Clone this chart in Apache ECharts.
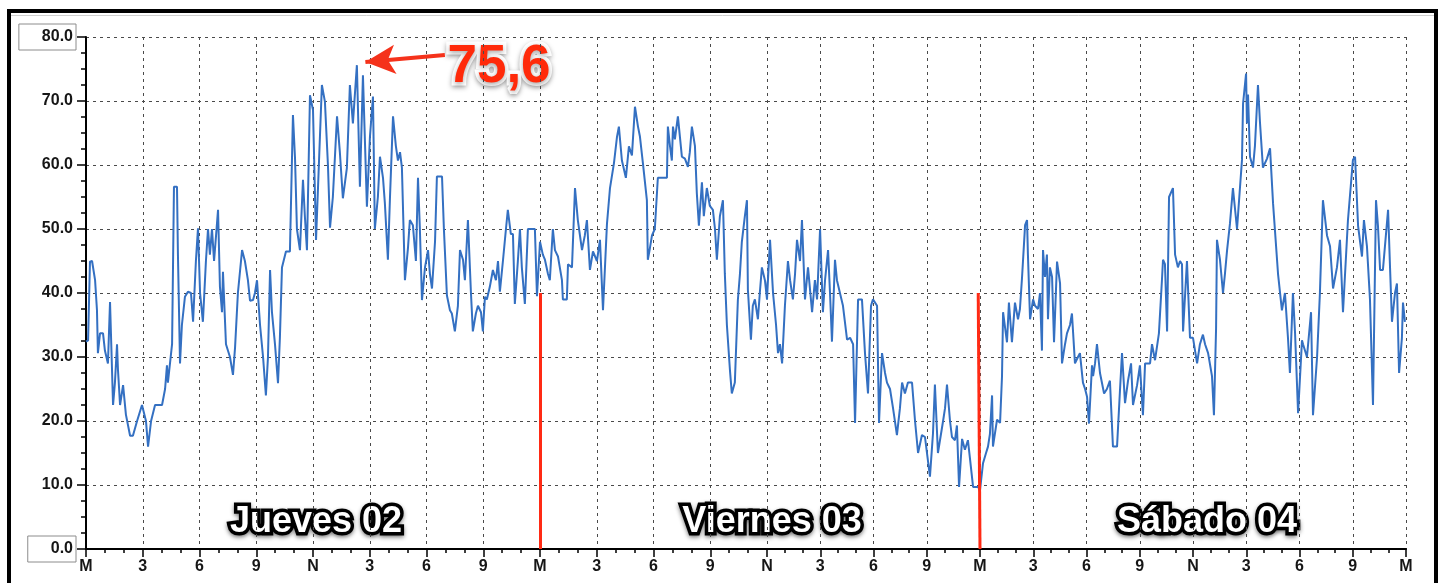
<!DOCTYPE html>
<html>
<head>
<meta charset="utf-8">
<script src="https://cdn.jsdelivr.net/npm/echarts@6/dist/echarts.min.js"></script>
<style>
  html, body { margin: 0; padding: 0; background: #fff; }
  #chart { width: 1442px; height: 583px; }
</style>
</head>
<body>
<div id="chart"></div>
<script>
// readings as [hour since Thursday 00:00, value]
const thursday = [
  [0.00, 32.4], [0.11, 32.6], [0.21, 44.9], [0.32, 45], [0.48, 42], [0.58, 37.3], [0.63, 30.6], [0.74, 33.7],
  [0.90, 33.7], [1.00, 31], [1.16, 29], [1.27, 38.6], [1.32, 38.6], [1.43, 22.5], [1.53, 26], [1.64, 32],
  [1.69, 28], [1.80, 22.5], [1.96, 25.6], [2.11, 21], [2.33, 17.7], [2.48, 17.7], [2.70, 20], [2.96, 22.5],
  [3.17, 20], [3.28, 16], [3.44, 20], [3.65, 22.5], [3.91, 22.5], [4.02, 22.5], [4.18, 25], [4.28, 28.7],
  [4.33, 26], [4.55, 32], [4.65, 56.6], [4.81, 56.6], [4.86, 46], [4.97, 29], [5.07, 35], [5.23, 39.4],
  [5.39, 40.2], [5.55, 40], [5.66, 35.5], [5.81, 45], [5.92, 50.1], [6.03, 40], [6.18, 35.5], [6.34, 45],
  [6.45, 50], [6.55, 46], [6.66, 50], [6.77, 45], [6.98, 53], [7.08, 41], [7.19, 37], [7.24, 43.3],
  [7.40, 32], [7.61, 30], [7.77, 27.2], [7.88, 31.5], [8.03, 40], [8.25, 46.7], [8.40, 45], [8.56, 42],
  [8.67, 38.8], [8.83, 38.9], [8.93, 40], [9.04, 42], [9.20, 35], [9.36, 30], [9.51, 24], [9.62, 30],
  [9.73, 43.6], [9.83, 37], [9.99, 32], [10.15, 25.9], [10.25, 33], [10.36, 44], [10.57, 46.5], [10.78, 46.5],
  [10.94, 67.8], [11.05, 61], [11.15, 50], [11.31, 46.7], [11.47, 57.7], [11.57, 52], [11.68, 46.7], [11.84, 70.9],
  [12.00, 68.6], [12.16, 48.3], [12.31, 60], [12.47, 72.5], [12.63, 69.9], [12.79, 60], [12.90, 50.2], [13.05, 55],
  [13.27, 67.6], [13.42, 62], [13.58, 54.8], [13.79, 59.5], [13.95, 72.5], [14.11, 66.5], [14.32, 75.6], [14.48, 56.6],
  [14.64, 74], [14.85, 53.5], [15.01, 64.4], [15.17, 70.7], [15.27, 50], [15.43, 55], [15.54, 61.3], [15.70, 58],
  [15.80, 54], [15.96, 45.2], [16.07, 55], [16.23, 67.6], [16.38, 63], [16.49, 60.7], [16.60, 62], [16.70, 59.6],
  [16.86, 42], [17.02, 47], [17.12, 51.4], [17.28, 50.6], [17.44, 45], [17.55, 58], [17.65, 50], [17.76, 38.9],
  [17.92, 44], [18.08, 46.7], [18.18, 43], [18.29, 40.7], [18.45, 48], [18.55, 58.2], [18.82, 58.2], [18.92, 50],
  [19.08, 39.6], [19.24, 37.3], [19.34, 36.8], [19.50, 34], [19.66, 38], [19.77, 46.7], [19.93, 45.2], [20.03, 42],
  [20.19, 51.4], [20.35, 40], [20.45, 34], [20.61, 36.8], [20.72, 38], [20.88, 37], [20.98, 34], [21.09, 39.4],
  [21.19, 39], [21.35, 41], [21.51, 43.6], [21.67, 42], [21.78, 45], [21.88, 40.2], [22.04, 45], [22.20, 50],
  [22.30, 53], [22.46, 49.2], [22.57, 49.2], [22.67, 38.3], [22.83, 45], [22.94, 50], [23.04, 44], [23.20, 38.3],
  [23.36, 50], [23.57, 50], [23.73, 50], [23.84, 39.5], [24.00, 48]
]

const friday = [
  [24.15, 46], [24.26, 45.2], [24.42, 43], [24.52, 42], [24.68, 50], [24.79, 46.7], [24.95, 45.7], [25.16, 42],
  [25.21, 39], [25.42, 39], [25.48, 44.5], [25.58, 44.8], [25.69, 44], [25.85, 56.4], [26.00, 51.4], [26.22, 46.7],
  [26.37, 49], [26.48, 51.4], [26.64, 43.6], [26.80, 46.5], [27.01, 45], [27.17, 48.3], [27.33, 37.3], [27.54, 50.8],
  [27.70, 56.4], [27.91, 60.3], [28.07, 64.4], [28.17, 66], [28.33, 60.7], [28.54, 58], [28.70, 62.9], [28.86, 61.5],
  [29.02, 69.1], [29.18, 66], [29.28, 64.5], [29.44, 60.3], [29.65, 54.5], [29.70, 45.2], [29.81, 47], [29.92, 49],
  [30.07, 50], [30.23, 58], [30.50, 58], [30.71, 58], [30.76, 66], [30.87, 63], [30.97, 60.7], [31.03, 66],
  [31.13, 64], [31.29, 67.6], [31.50, 61.3], [31.66, 61], [31.82, 59.7], [31.92, 62], [32.03, 66], [32.19, 63],
  [32.29, 55.6], [32.40, 50.5], [32.56, 57.3], [32.66, 52], [32.82, 56.4], [32.98, 53.6], [33.14, 53], [33.25, 50],
  [33.35, 45.2], [33.51, 52], [33.67, 54.5], [33.77, 43.1], [33.88, 35], [34.04, 28], [34.14, 24.3], [34.30, 26],
  [34.46, 38.9], [34.57, 43], [34.67, 48], [34.83, 52], [34.94, 54.5], [34.99, 40.5], [35.15, 32.7], [35.25, 38],
  [35.36, 39], [35.52, 35.9], [35.62, 40], [35.73, 44], [35.89, 42], [36.00, 39], [36.17, 48.3], [36.34, 40],
  [36.51, 35], [36.62, 30.6], [36.73, 32], [36.85, 29], [37.01, 38], [37.18, 45], [37.30, 42], [37.46, 39],
  [37.58, 43], [37.69, 48.3], [37.86, 45], [37.97, 51.4], [38.14, 39], [38.31, 44], [38.54, 37], [38.70, 42],
  [38.82, 39], [38.99, 50], [39.15, 37], [39.27, 42], [39.44, 46.7], [39.55, 40], [39.66, 32.4], [39.83, 45.2],
  [39.94, 42], [40.11, 40], [40.28, 38], [40.51, 32.7], [40.68, 33], [40.85, 32], [40.96, 19.7], [41.13, 39],
  [41.35, 39], [41.52, 30.6], [41.69, 24.3], [41.86, 38], [41.97, 39], [42.20, 38], [42.31, 19.7], [42.48, 30.6],
  [42.65, 27.5], [42.76, 26], [42.93, 25], [43.10, 22], [43.32, 17.8], [43.49, 22], [43.61, 26], [43.77, 24.3],
  [43.94, 26], [44.17, 26], [44.34, 20], [44.51, 15], [44.73, 17.8], [44.90, 17.5], [45.01, 17.5], [45.18, 11.3],
  [45.35, 18], [45.46, 25.7], [45.63, 15], [45.92, 20], [46.03, 22], [46.14, 25.7], [46.31, 20], [46.42, 17.5],
  [46.59, 17], [46.70, 19.3], [46.82, 9.7], [46.99, 17.2], [47.15, 15.5], [47.32, 17], [47.44, 14], [47.61, 9.7],
  [47.89, 9.7], [48.00, 9.2]
]

const saturday = [
  [48.17, 13.4], [48.34, 15], [48.45, 16], [48.56, 18], [48.68, 24], [48.73, 16], [48.96, 20.2], [49.13, 19.7],
  [49.24, 27], [49.30, 37], [49.41, 36.8], [49.52, 32.3], [49.63, 38.5], [49.80, 32.3], [49.97, 38.5], [50.14, 35.9],
  [50.25, 37.5], [50.37, 42.5], [50.54, 50.6], [50.65, 51.4], [50.70, 46], [50.82, 35.9], [50.99, 39], [51.10, 38],
  [51.27, 37.5], [51.38, 40], [51.49, 31], [51.55, 46.7], [51.66, 42.5], [51.77, 46], [51.83, 35.9], [51.94, 44],
  [52.06, 42.5], [52.17, 32.3], [52.34, 44.9], [52.51, 41.5], [52.62, 29], [52.79, 32], [52.90, 33.7], [53.07, 35],
  [53.18, 36.8], [53.35, 29], [53.52, 30], [53.63, 30.6], [53.80, 26], [53.92, 25], [54.03, 23.8], [54.14, 19.6],
  [54.31, 28.7], [54.37, 27], [54.48, 29], [54.59, 32], [54.76, 27.5], [54.99, 24.3], [55.15, 25], [55.32, 26.3],
  [55.49, 16], [55.72, 16], [55.89, 25], [56.00, 30.6], [56.17, 22.8], [56.34, 26.3], [56.51, 29], [56.62, 22.5],
  [56.85, 25.6], [57.01, 28.7], [57.18, 20.9], [57.30, 29], [57.58, 29], [57.69, 32], [57.86, 29.5], [58.08, 33.7],
  [58.25, 42], [58.31, 45.2], [58.42, 44.5], [58.54, 34], [58.65, 55], [58.87, 56.4], [58.99, 46], [59.15, 44],
  [59.27, 45], [59.38, 44.5], [59.44, 34], [59.66, 45], [59.83, 33], [60.00, 33], [60.23, 29], [60.39, 32],
  [60.56, 33.5], [60.68, 32], [60.85, 30.6], [61.07, 27], [61.18, 20.9], [61.30, 34.5], [61.35, 48.3], [61.52, 45.2],
  [61.69, 40], [61.80, 43], [61.92, 46.7], [62.08, 50.8], [62.25, 56.4], [62.48, 50], [62.65, 56.6], [62.76, 60.8],
  [62.82, 69.6], [62.99, 74.3], [63.04, 66.5], [63.10, 71], [63.21, 61.3], [63.38, 59.6], [63.49, 63], [63.66, 72.5],
  [63.77, 66.8], [63.94, 59.6], [64.17, 61], [64.34, 62.6], [64.51, 54], [64.79, 43], [65.01, 37.3], [65.18, 40],
  [65.35, 33], [65.46, 27.5], [65.63, 40], [65.75, 33.7], [65.92, 21.2], [66.14, 32.6], [66.20, 32], [66.42, 30],
  [66.65, 37], [66.76, 20.9], [66.99, 30], [67.15, 40], [67.32, 54.5], [67.55, 49], [67.72, 47.3], [67.89, 40.7],
  [68.11, 44], [68.28, 48.3], [68.45, 37], [68.56, 37], [68.73, 51.4], [69.01, 60.8], [69.13, 61.3], [69.30, 50.5],
  [69.52, 45.7], [69.63, 51.4], [69.80, 47.3], [69.97, 39], [70.14, 22.5], [70.31, 54.5], [70.42, 50.5], [70.54, 43.6],
  [70.70, 43.6], [70.99, 53], [71.10, 44], [71.21, 35.5], [71.38, 40], [71.49, 41.5], [71.61, 27.5], [71.77, 33],
  [71.83, 38.5], [71.94, 35.5]
]

const yTicks = [0, 80]                       // boxed y labels
const dayBreaks = [24, 48]                    // red midnight markers
const peak = { hour: 14.32, value: 75.6, label: '75,6' }
const dayLabels = ['Jueves 02', 'Viernes 03', 'Sábado 04']

const readings = [...thursday, ...friday, ...saturday]

const FONT = '"Liberation Sans", Arial, sans-serif'
const axisFont = { fontFamily: FONT, fontSize: 16, fontWeight: 'bold', color: '#161616' }
const gridDash = { color: '#4a4a4a', width: 1, type: [3, 4] }

const hourLabel = (v) => {
  const h = v % 24
  if (h === 0) return 'M'
  if (h === 12) return 'N'
  return String(h % 12)
}

const xAxisBase = {
  type: 'value',
  interval: 3,
  axisLine: { show: true, onZero: false, lineStyle: { color: '#000', width: 2 } },
  axisTick: { show: true, length: 8, lineStyle: { color: '#000', width: 1.5 } },
  minorTick: { show: true, splitNumber: 3, length: 4, lineStyle: { color: '#000', width: 1.5 } },
  axisLabel: { ...axisFont, margin: 10, formatter: hourLabel },
  splitLine: { show: true, lineStyle: gridDash },
}

const yAxisBase = {
  type: 'value',
  min: 0,
  max: 80,
  interval: 10,
  splitLine: { show: true, lineStyle: gridDash },
}

const chart = echarts.init(document.getElementById('chart'), null, { renderer: 'canvas' })

const lineStyle = { color: '#3470c2', width: 2 }

chart.setOption({
  animation: false,
  backgroundColor: '#fff',
  grid: [
    { left: 86, top: 37, width: 681, height: 512, outerBoundsMode: 'none' },
    { left: 767, top: 37, width: 639, height: 512, outerBoundsMode: 'none' },
  ],
  xAxis: [
    { ...xAxisBase, gridIndex: 0, min: 0, max: 36 },
    {
      ...xAxisBase,
      gridIndex: 1,
      min: 36,
      max: 72,
      axisLabel: { ...xAxisBase.axisLabel, showMinLabel: false },
      splitLine: { show: true, showMinLine: false, lineStyle: gridDash },
    },
  ],
  yAxis: [
    {
      ...yAxisBase,
      gridIndex: 0,
      axisLine: { show: true, lineStyle: { color: '#000', width: 2 } },
      axisTick: { show: true, length: 9, lineStyle: { color: '#000', width: 1.5 } },
      minorTick: { show: true, splitNumber: 4, length: 5, lineStyle: { color: '#000', width: 1.5 } },
      axisLabel: {
        margin: 10,
        formatter: (v) => (yTicks.includes(v) ? `{box|${v.toFixed(1)}}` : `{plain|${v.toFixed(1)}}`),
        rich: {
          box: { ...axisFont, borderColor: '#8c8c8c', borderWidth: 1, padding: [5, 3, 5, 23] },
          plain: { ...axisFont, padding: [0, 3, 0, 0] },
        },
      },
    },
    {
      ...yAxisBase,
      gridIndex: 1,
      axisLine: { show: false },
      axisTick: { show: false },
      axisLabel: { show: false },
    },
  ],
  series: [
    {
      type: 'line',
      xAxisIndex: 0,
      yAxisIndex: 0,
      data: readings,
      showSymbol: false,
      lineStyle,
      clip: true,
      silent: true,
      markLine: {
        silent: true,
        animation: false,
        label: { show: false },
        data: [
          [
            { coord: [dayBreaks[0], 0], symbol: 'none', lineStyle: { color: '#ff2a14', width: 3, type: 'solid' } },
            { coord: [dayBreaks[0], 40], symbol: 'none' },
          ],
          [
            { coord: [18.97, 77.2], symbol: 'none', lineStyle: { color: '#f5321b', width: 4, type: 'solid' } },
            { coord: [peak.hour + 0.45, peak.value + 0.5], symbol: 'arrow', symbolSize: [22, 30] },
          ],
        ],
      },
    },
    {
      type: 'line',
      xAxisIndex: 1,
      yAxisIndex: 1,
      data: readings,
      showSymbol: false,
      lineStyle,
      clip: true,
      silent: true,
      markLine: {
        silent: true,
        animation: false,
        label: { show: false },
        data: [
          [
            { coord: [dayBreaks[1], 0], symbol: 'none', lineStyle: { color: '#ff2a14', width: 3, type: 'solid' } },
            { coord: [dayBreaks[1] - 0.1, 40], symbol: 'none' },
          ],
        ],
      },
    },
  ],
  graphic: [
    { type: 'rect', silent: true, shape: { x: 9, y: 11, width: 1427, height: 640 }, style: { fill: 'none', stroke: '#000', lineWidth: 4 } },
    { type: 'line', silent: true, shape: { x1: 11, y1: 15.5, x2: 1434, y2: 15.5 }, style: { stroke: '#cfcfcf', lineWidth: 1 } },
    ...dayLabels.map((t, i) => ({
      type: 'text',
      silent: true,
      x: [316, 772, 1207][i],
      y: 522,
      style: {
        text: t,
        font: `bold 36px ${FONT}`,
        align: 'center',
        verticalAlign: 'middle',
        fill: '#fff',
        stroke: '#000',
        lineWidth: 7,
        textShadowColor: 'rgba(0,0,0,0.45)',
        textShadowBlur: 4,
        textShadowOffsetY: 2,
      },
    })),
    {
      type: 'text',
      silent: true,
      x: 499,
      y: 67,
      style: {
        text: peak.label,
        font: `bold 53px ${FONT}`,
        align: 'center',
        verticalAlign: 'middle',
        fill: '#ff2a0a',
        stroke: '#fff',
        lineWidth: 7,
        textShadowColor: 'rgba(0,0,0,0.35)',
        textShadowBlur: 5,
        textShadowOffsetY: 2,
      },
    },
  ],
})
</script>
</body>
</html>
